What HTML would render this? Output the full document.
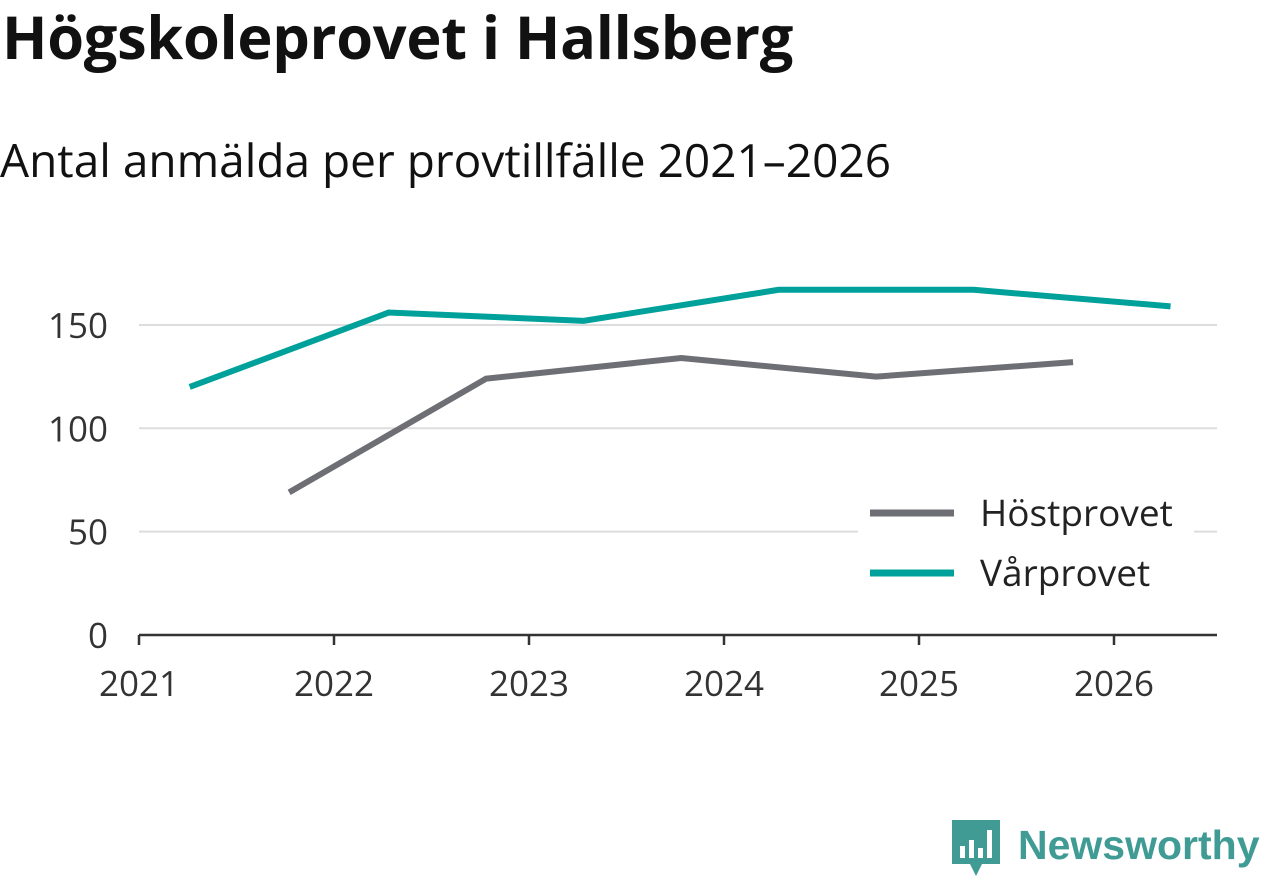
<!DOCTYPE html>
<html><head><meta charset="utf-8"><style>
body{margin:0;width:1262px;height:879px;background:#fff;font-family:"Open Sans","DejaVu Sans","Liberation Sans",sans-serif;overflow:hidden;position:relative}
h1{position:absolute;left:2px;top:-4px;margin:0;font-size:59.5px;font-weight:bold;color:#111;letter-spacing:-0.3px;white-space:nowrap}
h2{position:absolute;left:0px;top:129px;margin:0;font-size:46px;font-weight:normal;color:#111;white-space:nowrap}
</style></head><body>
<h1>Högskoleprovet i Hallsberg</h1>
<h2>Antal anmälda per provtillfälle 2021–2026</h2>
<svg id="chart" width="1262" height="879" style="position:absolute;left:0;top:0"></svg>
<div style="position:absolute;left:952px;top:820px;display:flex;align-items:center">
<svg width="48" height="58" viewBox="0 0 48 58"><path d="M0 0H48V44H30L24 56L18 44H0Z" fill="#3f9b94"/><rect x="8" y="26" width="5" height="12" fill="#fff"/><rect x="17" y="20" width="5" height="18" fill="#fff"/><rect x="26" y="28" width="5" height="10" fill="#fff"/><rect x="35" y="10" width="5" height="28" fill="#fff"/></svg>
<span style="font-family:'Liberation Sans',sans-serif;font-weight:bold;font-size:41px;color:#3f9b94;margin-left:18px;margin-top:-8px">Newsworthy</span></div>
<script>
const springYears=[2021.26,2022.28,2023.28,2024.28,2025.28,2026.29];
const springValues=[120,156,152,167,167,159];
const fallYears=[2021.77,2022.78,2023.78,2024.78,2025.79];
const fallValues=[69,124,134,125,132];
const yTicks=[0,50,100,150];
const xTicks=[2021,2022,2023,2024,2025,2026];
const NS="http://www.w3.org/2000/svg";
const svg=document.getElementById('chart');
const x=v=>139+(v-2021)*195;
const y=v=>635-v*2.067;
function mk(t,a){const e=document.createElementNS(NS,t);for(const k in a)e.setAttribute(k,a[k]);svg.appendChild(e);return e;}
yTicks.forEach(t=>{
 if(t>0){const l=mk('line',{x1:139,x2:1217,y1:y(t),y2:y(t),stroke:'#ddd','stroke-width':2});
 
 }
 const tx=mk('text',{x:108,y:y(t)+13,'text-anchor':'end','font-size':35,fill:'#333'});tx.textContent=t;
 
 
});
const ax=mk('line',{x1:139,x2:1217,y1:635,y2:635,stroke:'#333','stroke-width':2.5});


xTicks.forEach(t=>{
 mk('line',{x1:x(t),x2:x(t),y1:635,y2:645,stroke:'#333','stroke-width':2.5});
 const tx=mk('text',{x:x(t),y:696,'text-anchor':'middle','font-size':35,fill:'#333'});tx.textContent=t;
 
 
});
function line(xs,vs,c,n){const p=mk('polyline',{points:xs.map((d,i)=>x(d)+','+y(vs[i])).join(' '),fill:'none',stroke:c,'stroke-width':6});
 
 }
line(fallYears,fallValues,'#6e6e75','line-hostprovet');
line(springYears,springValues,'#00a19a','line-varprovet');
mk('rect',{x:858,y:490,width:336,height:120,fill:'#fff'});
[['Höstprovet','#6e6e75',513],['Vårprovet','#00a19a',573]].forEach(([n,c,yy])=>{
 const g=mk('g',{});
 
 
 const l=document.createElementNS(NS,'line');l.setAttribute('x1',870);l.setAttribute('x2',954);l.setAttribute('y1',yy);l.setAttribute('y2',yy);l.setAttribute('stroke',c);l.setAttribute('stroke-width',7);g.appendChild(l);
 const t=document.createElementNS(NS,'text');t.setAttribute('x',980);t.setAttribute('y',yy+13);t.setAttribute('font-size',37);t.setAttribute('fill','#222');t.textContent=n;g.appendChild(t);
});
</script>
</body></html>
